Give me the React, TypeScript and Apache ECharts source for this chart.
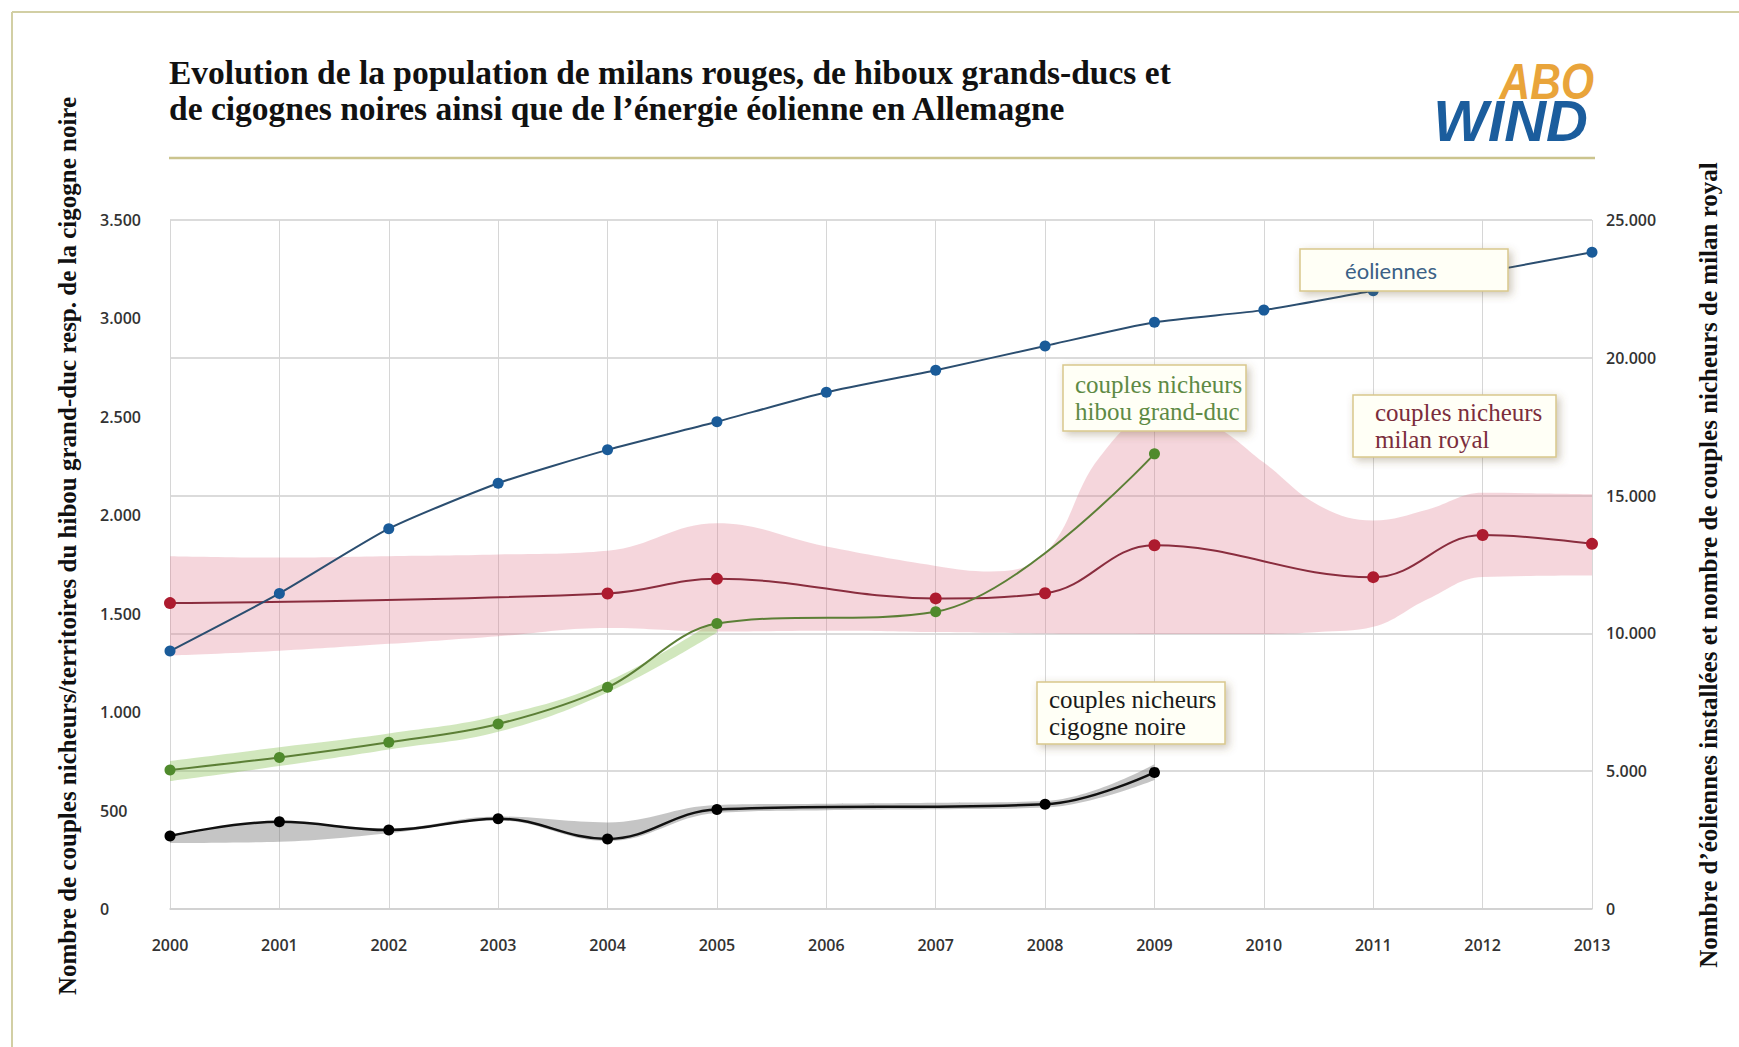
import React, { useEffect, useRef } from "react";
import * as echarts from "echarts";

// ---------- data ----------
const years = [2000, 2001, 2002, 2003, 2004, 2005, 2006, 2007, 2008, 2009, 2010, 2011, 2012, 2013];
const eoliennes = [9360, 11450, 13800, 15450, 16660, 17680, 18750, 19550, 20430, 21290, 21730, 22430, 23100, 23830];

const milanYears = [2000, 2004, 2005, 2007, 2008, 2009, 2011, 2012, 2013];
const milanValues = [11100, 11450, 11980, 11270, 11455, 13200, 12040, 13570, 13250];

const milanBandYears = [2000, 2001, 2002, 2003, 2004, 2005, 2006, 2007, 2007.5, 2008, 2008.5, 2009, 2009.5, 2010, 2010.5, 2011, 2011.5, 2012, 2013];
const milanBandUpper = [12800, 12750, 12800, 12860, 13000, 14000, 13150, 12450, 12250, 12900, 16400, 17900, 17600, 16200, 14650, 14100, 14500, 15100, 15050];
const milanBandLower = [9200, 9370, 9620, 9900, 10200, 10070, 10100, 10050, 10020, 10000, 9985, 9980, 9980, 9980, 10050, 10240, 11250, 12050, 12100];

const hibouYears = [2000, 2001, 2002, 2003, 2004, 2005, 2007, 2009];
const hibouValues = [706, 770, 847, 940, 1126, 1450, 1510, 2312];
const hibouBandYears = [2000, 2001, 2002, 2003, 2004, 2005];
const hibouBandLower = [650, 726, 810, 900, 1100, 1405];
const hibouBandUpper = [752, 822, 892, 982, 1155, 1470];

const cigogneYears = [2000, 2001, 2002, 2003, 2004, 2005, 2008, 2009];
const cigogneValues = [371, 443, 401, 459, 356, 506, 532, 694];
const cigogneBandYears = [2000, 2001, 2002, 2003, 2004, 2005, 2006, 2007, 2008, 2009];
const cigogneBandLower = [335, 342, 385, 450, 345, 488, 502, 507, 515, 655];
const cigogneBandUpper = [375, 445, 410, 470, 440, 528, 535, 540, 548, 735];

const leftAxisMax = 3500;
const leftAxisStep = 500;
const rightAxisMax = 25000;
const rightAxisStep = 5000;

const titleLines = [
  "Evolution de la population de milans rouges, de hiboux grands-ducs et",
  "de cigognes noires ainsi que de l\u2019énergie éolienne en Allemagne",
];
const leftAxisTitle = "Nombre de couples nicheurs/territoires du hibou grand-duc resp. de la cigogne noire";
const rightAxisTitle = "Nombre d\u2019éoliennes installées et nombre de couples nicheurs de milan royal";

// ---------- helpers ----------
const fmtDot = (v: number) => String(v).replace(/\B(?=(\d{3})+(?!\d))/g, ".");
const pairs = (xs: number[], ys: number[]) => xs.map((x, i) => [x, ys[i]]);

// band drawn as stacked areas; rows are [value, year] so that the value dimension is the stacked one
function band(name: string, xs: number[], lo: number[], hi: number[], yAxisIndex: number, color: string) {
  const common = {
    type: "line",
    stack: name,
    yAxisIndex,
    symbol: "none",
    smooth: 0.4,
    silent: true,
    encode: { x: 1, y: 0 },
    lineStyle: { width: 0, opacity: 0 },
    z: 1,
  };
  return [
    { ...common, name: name + "-lo", data: xs.map((x, i) => [lo[i], x]) },
    {
      ...common,
      name: name + "-band",
      data: xs.map((x, i) => [hi[i] - lo[i], x]),
      areaStyle: { color, opacity: 1 },
    },
  ];
}

const SERIF = '"Liberation Serif", "Times New Roman", serif';

function box(x: number, y: number, w: number, h: number, text: string, color: string, font: string, tx: number, align: string) {
  return [
    {
      type: "rect",
      z: 100,
      shape: { x, y, width: w, height: h },
      style: {
        fill: "#fffff6",
        stroke: "#d9c88c",
        lineWidth: 1.5,
        shadowBlur: 8,
        shadowOffsetX: 3,
        shadowOffsetY: 3,
        shadowColor: "rgba(110,90,50,0.35)",
      },
    },
    {
      type: "text",
      z: 101,
      x: tx,
      y: y + h / 2,
      style: {
        text,
        fill: color,
        font,
        lineHeight: 27,
        textAlign: align,
        textVerticalAlign: "middle",
      },
    },
  ];
}

export default function App() {
  const ref = useRef<HTMLDivElement>(null);

  useEffect(() => {
    if (!ref.current) return;
    const chart = echarts.init(ref.current, undefined, { renderer: "svg" });

    const option: any = {
      animation: false,
      backgroundColor: "#ffffff",
      grid: { left: 170, right: 147, top: 220, bottom: 138 },
      xAxis: {
        type: "value",
        min: years[0],
        max: years[years.length - 1],
        interval: 1,
        axisLine: { show: true, lineStyle: { color: "#cfcfcf", width: 1.5 } },
        axisTick: { show: false },
        splitLine: { show: true, lineStyle: { color: "#d6d6d6", width: 1 } },
        axisLabel: {
          formatter: (v: number) => String(v),
          margin: 28,
          color: "#333",
          fontFamily: "Open Sans",
          fontSize: 16,
          fontWeight: 600,
        },
      },
      yAxis: [
        {
          type: "value",
          position: "left",
          min: 0,
          max: leftAxisMax,
          interval: leftAxisStep,
          axisLine: { show: false },
          axisTick: { show: false },
          splitLine: { show: false },
          axisLabel: {
            formatter: fmtDot,
            align: "left",
            margin: 70,
            color: "#333",
            fontFamily: "Open Sans",
            fontSize: 16,
            fontWeight: 600,
          },
        },
        {
          type: "value",
          position: "right",
          min: 0,
          max: rightAxisMax,
          interval: rightAxisStep,
          axisLine: { show: false },
          axisTick: { show: false },
          splitLine: { show: true, lineStyle: { color: "#cfcfcf", width: 1.5 } },
          axisLabel: {
            formatter: fmtDot,
            margin: 14,
            color: "#333",
            fontFamily: "Open Sans",
            fontSize: 16,
            fontWeight: 600,
          },
        },
      ],
      series: [
        ...band("milan", milanBandYears, milanBandLower, milanBandUpper, 1, "rgba(222,120,138,0.30)"),
        ...band("hibou", hibouBandYears, hibouBandLower, hibouBandUpper, 0, "rgba(140,195,90,0.40)"),
        ...band("cigogne", cigogneBandYears, cigogneBandLower, cigogneBandUpper, 0, "rgba(110,110,110,0.40)"),
        {
          type: "line",
          name: "couples nicheurs milan royal",
          yAxisIndex: 1,
          data: pairs(milanYears, milanValues),
          smooth: 0.4,
          symbol: "circle",
          symbolSize: 12,
          lineStyle: { color: "#8a2d3e", width: 2 },
          itemStyle: { color: "#ad1b2f" },
          z: 4,
        },
        {
          type: "line",
          name: "couples nicheurs hibou grand-duc",
          yAxisIndex: 0,
          data: pairs(hibouYears, hibouValues),
          smooth: 0.35,
          symbol: "circle",
          symbolSize: 11,
          lineStyle: { color: "#5c7f36", width: 2 },
          itemStyle: { color: "#4f8a2c" },
          z: 4,
        },
        {
          type: "line",
          name: "couples nicheurs cigogne noire",
          yAxisIndex: 0,
          data: pairs(cigogneYears, cigogneValues),
          smooth: 0.4,
          symbol: "circle",
          symbolSize: 11,
          lineStyle: { color: "#111111", width: 2.5 },
          itemStyle: { color: "#000000" },
          z: 4,
        },
        {
          type: "line",
          name: "éoliennes",
          yAxisIndex: 1,
          data: pairs(years, eoliennes),
          smooth: 0.2,
          symbol: "circle",
          symbolSize: 11,
          lineStyle: { color: "#2b4e70", width: 2 },
          itemStyle: { color: "#1a5b99" },
          z: 5,
        },
      ],
      graphic: [
        // outer border
        { type: "line", z: 0, shape: { x1: 12, y1: 12, x2: 1739, y2: 12 }, style: { stroke: "#d2cfa4", lineWidth: 2 } },
        { type: "line", z: 0, shape: { x1: 12, y1: 12, x2: 12, y2: 1047 }, style: { stroke: "#d2cfa4", lineWidth: 2 } },
        // title
        {
          type: "text",
          x: 169,
          y: 72,
          style: { text: titleLines[0], fill: "#111", font: `bold 33.5px ${SERIF}`, textAlign: "left", textVerticalAlign: "middle" },
        },
        {
          type: "text",
          x: 169,
          y: 108,
          style: { text: titleLines[1], fill: "#111", font: `bold 33.5px ${SERIF}`, textAlign: "left", textVerticalAlign: "middle" },
        },
        // rule under title
        { type: "line", shape: { x1: 169, y1: 158, x2: 1595, y2: 158 }, style: { stroke: "#cbc48e", lineWidth: 2.5 } },
        // logo
        {
          type: "text",
          x: 1594,
          y: 82,
          scaleX: 0.85,
          style: { text: "ABO", fill: "#e9a43a", font: 'italic bold 50px "Liberation Sans", Arial, sans-serif', textAlign: "right", textVerticalAlign: "middle" },
        },
        {
          type: "text",
          x: 1588,
          y: 120,
          style: { text: "WIND", fill: "#1b5d9d", font: 'italic bold 58px "Liberation Sans", Arial, sans-serif', textAlign: "right", textVerticalAlign: "middle" },
        },
        // axis titles
        {
          type: "text",
          x: 67,
          y: 546,
          rotation: Math.PI / 2,
          style: { text: leftAxisTitle, fill: "#111", font: `bold 25px ${SERIF}`, textAlign: "center", textVerticalAlign: "middle" },
        },
        {
          type: "text",
          x: 1708,
          y: 565,
          rotation: Math.PI / 2,
          style: { text: rightAxisTitle, fill: "#111", font: `bold 25px ${SERIF}`, textAlign: "center", textVerticalAlign: "middle" },
        },
        // annotation boxes
        ...box(1300, 249, 208, 42, "éoliennes", "#3b6186", '22px Lato, "Open Sans", sans-serif', 1391, "center"),
        ...box(1063, 365, 183, 66, "couples nicheurs\nhibou grand-duc", "#5e8a45", `25px ${SERIF}`, 1075, "left"),
        ...box(1353, 395, 203, 62, "couples nicheurs\nmilan royal", "#7b2d3c", `25px ${SERIF}`, 1375, "left"),
        ...box(1037, 682, 188, 62, "couples nicheurs\ncigogne noire", "#1a1a1a", `25px ${SERIF}`, 1049, "left"),
      ],
    };

    chart.setOption(option);
    return () => chart.dispose();
  }, []);

  return (
    <div
      ref={ref}
      style={{ position: "absolute", left: 0, top: 0, width: 1739, height: 1047, background: "#fff" }}
    />
  );
}
